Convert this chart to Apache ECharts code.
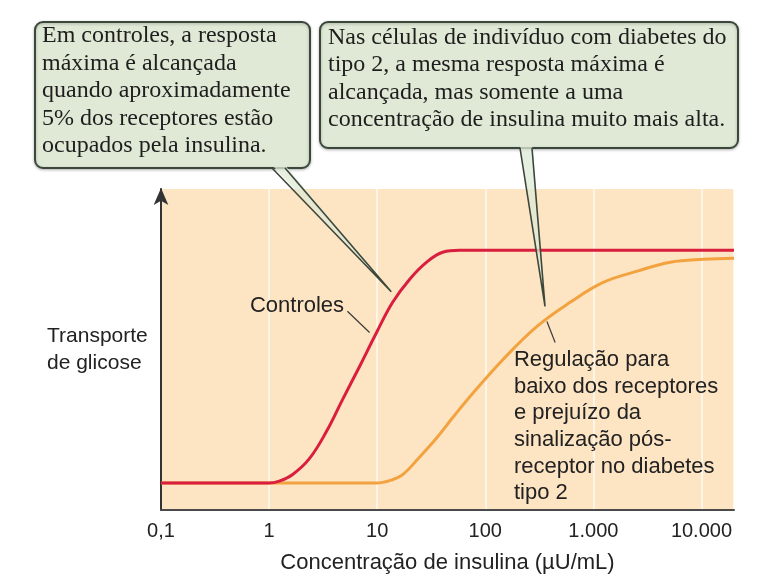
<!DOCTYPE html>
<html>
<head>
<meta charset="utf-8">
<script src="https://cdn.jsdelivr.net/npm/echarts@6/dist/echarts.min.js"></script>
<style>
html,body{margin:0;padding:0;background:#fff;}
#chart{width:779px;height:586px;}
</style>
</head>
<body>
<div id="chart"></div>
<script>
// Tick labels (log axis, base 10)
const tickValues = [0.1, 1, 10, 100, 1000, 10000];
const tickLabels = ['0,1', '1', '10', '100', '1.000', '10.000'];

// Controls curve: insulin concentration (µU/mL) and glucose transport (relative units 0-100)
const controlsConc = [0.1, 1, 1.24, 1.64, 2.36, 3.4, 4.78, 6.87, 9.87, 13.9, 20, 28.7, 40.4, 58, 20000];
const controlsVal  = [8.4, 8.4, 9.0, 11.0, 16.0, 24.5, 34.4, 44.7, 55.3, 64.7, 71.9, 77.2, 80.3, 80.9, 80.9];

// Type 2 diabetes curve
const diabConc = [0.1, 9.87, 13.5, 17.2, 24.7, 35.6, 50, 72, 146, 301, 610, 1233, 2550, 5150, 10450, 20000];
const diabVal  = [8.4, 8.4, 9.3, 11.0, 16.5, 22.5, 28.8, 35.3, 46.9, 57.2, 64.7, 70.9, 74.4, 77.2, 78.1, 78.4];

const xAxisName = 'Concentração de insulina (µU/mL)';
const yAxisName = 'Transporte\nde glicose';
const box1Text = 'Em controles, a resposta\nmáxima é alcançada\nquando aproximadamente\n5% dos receptores estão\nocupados pela insulina.';
const box2Text = 'Nas células de indivíduo com diabetes do\ntipo 2, a mesma resposta máxima é\nalcançada, mas somente a uma\nconcentração de insulina muito mais alta.';
const controlsLabel = 'Controles';
const diabLabel = 'Regulação para\nbaixo dos receptores\ne prejuízo da\nsinalização pós-\nreceptor no diabetes\ntipo 2';

const zip = (a, b) => a.map((v, i) => [v, b[i]]);

const SANS = '"Liberation Sans", Arial, sans-serif';
const SERIF = '"Liberation Serif", "Times New Roman", serif';
const AXIS_COLOR = '#4a4a4a';

const chart = echarts.init(document.getElementById('chart'), null, {renderer: 'canvas'});

chart.setOption({
  animation: false,
  backgroundColor: '#ffffff',
  grid: {
    left: 161, right: 45, top: 189, bottom: 76,
    show: true, backgroundColor: '#fde4c3', borderWidth: 0
  },
  xAxis: {
    type: 'log', logBase: 10, min: 0.1, max: 20000,
    name: xAxisName, nameLocation: 'middle', nameGap: 42,
    nameTextStyle: {fontFamily: SANS, fontSize: 22, color: '#222'},
    axisLine: {show: true, lineStyle: {color: AXIS_COLOR, width: 2}},
    axisTick: {show: false},
    axisLabel: {
      fontFamily: SANS, fontSize: 20, color: '#222', margin: 11,
      showMaxLabel: false,
      formatter: function (v) {
        const k = Math.round(Math.log10(v));
        const idx = tickValues.findIndex(t => Math.round(Math.log10(t)) === k);
        return (idx >= 0 && Math.abs(Math.log10(v) - k) < 1e-6) ? tickLabels[idx] : '';
      }
    },
    splitLine: {show: true, lineStyle: {color: 'rgba(255,255,255,0.85)', width: 1.5}}
  },
  yAxis: {
    type: 'value', min: 0, max: 100,
    name: yAxisName, nameLocation: 'middle', nameGap: 114, nameRotate: 0,
    nameTextStyle: {fontFamily: SANS, fontSize: 21, color: '#222', align: 'left', lineHeight: 27},
    axisLine: {show: true, symbol: ['none', 'arrow'], symbolSize: [11, 17], symbolOffset: [0, 1],
      lineStyle: {color: '#333', width: 2}},
    axisTick: {show: false},
    axisLabel: {show: false},
    splitLine: {show: false}
  },
  series: [
    {
      name: 'Diabetes tipo 2', type: 'line', data: zip(diabConc, diabVal),
      showSymbol: false, smooth: 0.4,
      lineStyle: {color: '#f2a23e', width: 3}, z: 2
    },
    {
      name: 'Controles', type: 'line', data: zip(controlsConc, controlsVal),
      showSymbol: false, smooth: 0.4,
      lineStyle: {color: '#d91f3d', width: 3}, z: 3
    }
  ]
});

function px(pt) { return chart.convertToPixel({gridIndex: 0}, pt); }

const boxFill = '#dfe9d5';
const boxStroke = '#3c473c';

const tip1 = px([13.5, 68]);
const tip2 = px([357, 63.4]);
const ctrlA = px([5.3, 61.9]), ctrlB = px([8.5, 55.3]);
const regA = px([372, 58.7]), regB = px([443, 52.2]);
const ctrlTxt = px([0.665, 63.6]);
const regTxt = px([184, 50.8]);

function tail(b1, b2, tip) {
  return [
    {type: 'polygon', z: 50, shape: {points: [[b1[0], b1[1] - 3], [b2[0], b2[1] - 3], tip]},
      style: {fill: 'rgba(223,233,213,0.75)', stroke: null}},
    {type: 'polyline', z: 51, shape: {points: [b1, tip, b2]},
      style: {stroke: boxStroke, lineWidth: 1.6, fill: null}}
  ];
}

chart.setOption({
  graphic: [
    {type: 'rect', z: 40, shape: {x: 35, y: 22, width: 275, height: 146, r: 8},
      style: {fill: boxFill, stroke: boxStroke, lineWidth: 2, shadowBlur: 3, shadowOffsetY: 1, shadowColor: 'rgba(0,0,0,0.25)'}},
    {type: 'rect', z: 40, shape: {x: 320, y: 22, width: 418, height: 126, r: 8},
      style: {fill: boxFill, stroke: boxStroke, lineWidth: 2, shadowBlur: 3, shadowOffsetY: 1, shadowColor: 'rgba(0,0,0,0.25)'}},
    ...tail([272, 168], [285, 168], tip1),
    ...tail([520, 148], [532, 148], tip2),
    {type: 'text', z: 60, style: {text: box1Text, x: 42, y: 22, font: '24px ' + SERIF, lineHeight: 27.5, fill: '#1e1e1e'}},
    {type: 'text', z: 60, style: {text: box2Text, x: 328, y: 24, font: '24px ' + SERIF, lineHeight: 27.3, fill: '#1e1e1e'}},
    {type: 'line', z: 55, shape: {x1: ctrlA[0], y1: ctrlA[1], x2: ctrlB[0], y2: ctrlB[1]},
      style: {stroke: '#3a3a3a', lineWidth: 1.2}},
    {type: 'line', z: 55, shape: {x1: regA[0], y1: regA[1], x2: regB[0], y2: regB[1]},
      style: {stroke: '#3a3a3a', lineWidth: 1.2}},
    {type: 'text', z: 60, style: {text: controlsLabel, x: ctrlTxt[0], y: ctrlTxt[1], font: '22px ' + SANS, fill: '#222', verticalAlign: 'middle'}},
    {type: 'text', z: 60, style: {text: diabLabel, x: regTxt[0], y: regTxt[1], font: '22px ' + SANS, lineHeight: 26.6, fill: '#222'}}
  ]
});
</script>
</body>
</html>
